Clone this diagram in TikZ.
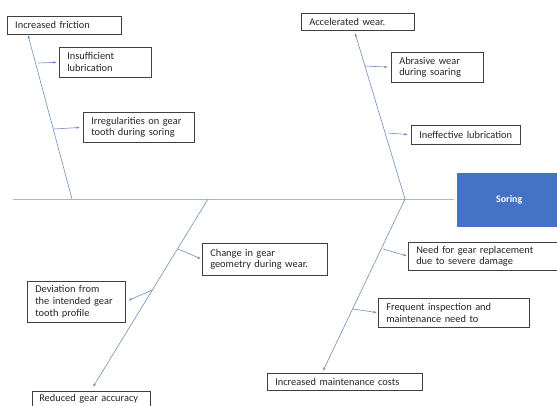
\documentclass[tikz,border=0pt]{standalone}
\usepackage{fontspec}
\setmainfont{Carlito}
\usetikzlibrary{arrows.meta,calc}
\definecolor{bone}{HTML}{6E8DC0}
\definecolor{spine}{HTML}{A3B7D6}
\definecolor{headblue}{HTML}{4472C4}
\definecolor{txt}{HTML}{262626}
\tikzset{
  box/.style={draw=black!75, line width=0.5pt, fill=white, anchor=north west, inner xsep=8pt, inner ysep=0pt,
    align=left, font=\fontsize{10.4}{11.8}\selectfont, text=txt},
  arr/.style={draw=bone, line width=0.6pt, -{Latex[length=3.5pt,width=2.5pt]}},
}
\begin{document}
\begin{tikzpicture}[x=1pt,y=1pt]
\useasboundingbox (0,0) rectangle (557,-405);
% boxes
\node[box, minimum width=114pt, minimum height=18pt, text width=98pt] (fric) at (7,-16) {Increased friction};
\node[box, minimum width=92pt, minimum height=30pt, text width=76pt] (ins) at (59,-47) {Insufficient\\lubrication};
\node[box, minimum width=111pt, minimum height=30pt, text width=95pt] (irr) at (83,-112) {Irregularities on gear\\tooth during soring};
\node[box, minimum width=113pt, minimum height=17pt, text width=97pt] (acc) at (301,-13) {Accelerated wear.};
\node[box, minimum width=92pt, minimum height=30pt, text width=76pt] (abr) at (391,-52) {Abrasive wear\\during soaring};
\node[box, minimum width=109pt, minimum height=19pt, text width=93pt] (ine) at (411,-125) {Ineffective lubrication};
\node[box, minimum width=125pt, minimum height=32pt, text width=109pt] (chg) at (202,-243) {Change in gear\\geometry during wear.};
\node[box, minimum width=98pt, minimum height=41pt, text width=82pt] (dev) at (27,-281) {Deviation from\\the intended gear\\tooth profile};
\node[box, inner xsep=7pt, minimum width=118pt, minimum height=15pt, text width=104pt] (red) at (32,-391) {Reduced gear accuracy};
\node[box, minimum width=160pt, minimum height=28pt, text width=144pt] (need) at (408,-242) {Need for gear replacement\\due to severe damage};
\node[box, minimum width=151pt, minimum height=29pt, text width=135pt] (freq) at (378,-298) {Frequent inspection and\\maintenance need to};
\node[box, minimum width=155pt, minimum height=17pt, text width=139pt] (cost) at (267,-373) {Increased maintenance costs};
\node[draw=none, fill=headblue, anchor=north west, minimum width=104pt, minimum height=54pt, text=white,
  font=\fontsize{10}{12}\selectfont\bfseries] (head) at (457,-173) {Soring};
% spine
\coordinate (s0) at (13,-199);
\draw[draw=spine, line width=0.8pt, shorten >=3pt] (s0) -- (head.west |- s0);
% bones
\coordinate (j1) at (72,-199);
\coordinate (t1) at (28,-35);
\coordinate (j2) at (405,-199);
\coordinate (t2) at (355,-33);
\coordinate (j3) at (208,-199);
\coordinate (t3) at (93,-387);
\coordinate (t4) at (323,-371);
\draw[arr] (j1) -- (t1);
\draw[arr] (j2) -- (t2);
\draw[arr] (j3) -- (t3);
\draw[arr] (j2) -- (t4);
% branches
\coordinate (b1) at (38,-63);
\coordinate (b2) at (54,-129);
\coordinate (b3) at (365,-66);
\coordinate (b4) at (388,-133);
\coordinate (b5) at (178,-249);
\coordinate (b6) at (152,-290);
\coordinate (b7) at (383,-249);
\coordinate (b8) at (353,-309);
\draw[arr, shorten >=2pt] (b1) -- (ins.west);
\draw[arr, shorten >=3pt] (b2) -- (irr.west);
\draw[arr, shorten >=3pt] (b3) -- (abr.west);
\draw[arr, shorten >=3pt] (b4) -- (ine.west);
\draw[arr, shorten >=1pt] (b5) -- (chg.west);
\draw[arr, shorten >=3pt] (b6) -- (dev.east);
\draw[arr, shorten >=1pt] (b7) -- (need.west);
\draw[arr, shorten >=1pt] (b8) -- (freq.west);
\end{tikzpicture}
\end{document}
